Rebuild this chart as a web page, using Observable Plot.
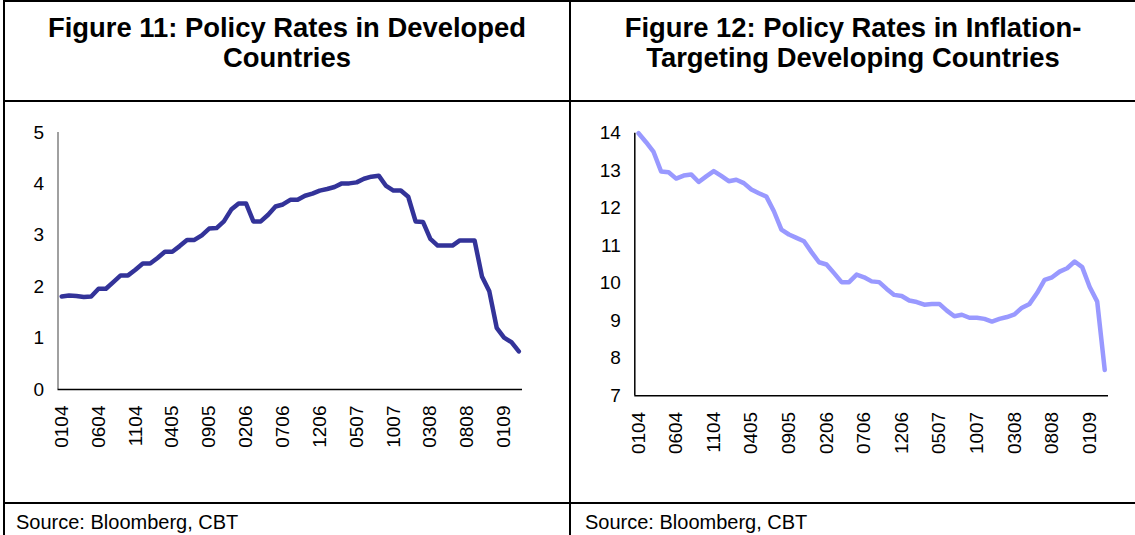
<!DOCTYPE html>
<html>
<head>
<meta charset="utf-8">
<script src="https://cdn.jsdelivr.net/npm/d3@7"></script>
<script src="https://cdn.jsdelivr.net/npm/@observablehq/plot@0.6"></script>
<style>
  html, body { margin: 0; padding: 0; background: #fff; }
  body { font-family: "Liberation Sans", Arial, sans-serif; color: #000; }
  #page { position: relative; width: 1135px; height: 535px; overflow: hidden; background: #fff; }
  .hl { position: absolute; background: #000; }
  .title { position: absolute; top: 13px; font-weight: bold; font-size: 27.4px; line-height: 30px; text-align: center; }
  .source { position: absolute; top: 510px; font-size: 20px; line-height: 24px; }
  .chart { position: absolute; top: 101px; }
  .chart svg { overflow: visible; }
</style>
</head>
<body>
<div id="page">
  <div class="hl" style="left:3px;top:0;width:1132px;height:2px"></div>
  <div class="hl" style="left:3px;top:0;width:2px;height:535px"></div>
  <div class="hl" style="left:569px;top:0;width:2px;height:535px"></div>
  <div class="hl" style="left:3px;top:100px;width:1132px;height:2px"></div>
  <div class="hl" style="left:3px;top:502px;width:1132px;height:2px"></div>

  <div class="title" style="left:5px;width:564px">Figure 11: Policy Rates in Developed<br>Countries</div>
  <div class="title" style="left:571px;width:564px">Figure 12: Policy Rates in Inflation-<br>Targeting Developing Countries</div>

  <div class="chart" id="c1" style="left:0px"></div>
  <div class="chart" id="c2" style="left:570px"></div>

  <div class="source" style="left:16px">Source: Bloomberg, CBT</div>
  <div class="source" style="left:585px">Source: Bloomberg, CBT</div>
</div>
<script>
const months = [
  "0104","0204","0304","0404","0504","0604","0704","0804","0904","1004","1104","1204",
  "0105","0205","0305","0405","0505","0605","0705","0805","0905","1005","1105","1205",
  "0106","0206","0306","0406","0506","0606","0706","0806","0906","1006","1106","1206",
  "0107","0207","0307","0407","0507","0607","0707","0807","0907","1007","1107","1207",
  "0108","0208","0308","0408","0508","0608","0708","0808","0908","1008","1108","1208",
  "0109","0209","0309"
];
const tickLabels = ["0104","0604","1104","0405","0905","0206","0706","1206","0507","1007","0308","0808","0109"];

const developed = [
  1.81, 1.83, 1.82, 1.80, 1.81, 1.96, 1.96, 2.09, 2.22, 2.22, 2.33, 2.45,
  2.45, 2.56, 2.68, 2.68, 2.79, 2.91, 2.91, 3.00, 3.13, 3.14, 3.27, 3.50,
  3.62, 3.62, 3.27, 3.27, 3.40, 3.56, 3.60, 3.69, 3.69, 3.77, 3.81, 3.87,
  3.90, 3.94, 4.01, 4.01, 4.03, 4.10, 4.14, 4.16, 3.96, 3.87, 3.87, 3.75,
  3.27, 3.26, 2.93, 2.80, 2.80, 2.80, 2.90, 2.90, 2.90, 2.20, 1.91, 1.20,
  1.01, 0.92, 0.74
];
const developing = [
  14.00, 13.76, 13.50, 12.98, 12.96, 12.79, 12.87, 12.90, 12.70, 12.85, 12.99, 12.86,
  12.72, 12.76, 12.67, 12.50, 12.40, 12.31, 11.92, 11.43, 11.30, 11.21, 11.12, 10.83,
  10.56, 10.50, 10.27, 10.03, 10.03, 10.23, 10.16, 10.05, 10.03, 9.85, 9.69, 9.66,
  9.54, 9.50, 9.43, 9.45, 9.45, 9.27, 9.12, 9.16, 9.08, 9.08, 9.05, 8.98,
  9.05, 9.10, 9.17, 9.35, 9.45, 9.74, 10.09, 10.16, 10.31, 10.40, 10.58, 10.43,
  9.90, 9.51, 7.69
];
const yTicksLeft = [0, 1, 2, 3, 4, 5];
const yTicksRight = [7, 8, 9, 10, 11, 12, 13, 14];

const tickIdx = tickLabels.map(l => months.indexOf(l));
const font = {fontFamily: "'Liberation Sans', Arial, sans-serif", fontSize: "19px", color: "#000", background: "transparent", overflow: "visible"};

function chart(values, opts) {
  const data = values.map((v, i) => ({i, m: months[i], v}));
  return Plot.plot({
    width: opts.width, height: 400,
    marginLeft: opts.ml, marginRight: opts.mr, marginTop: opts.mt, marginBottom: opts.mb,
    style: font,
    x: {domain: [-0.5, months.length - 0.5]},
    y: {domain: opts.yDomain},
    marks: [
      Plot.ruleX([-0.5], {stroke: opts.yAxisColor, strokeWidth: 1.5}),
      Plot.ruleY([opts.yDomain[0]], {stroke: "#000", strokeWidth: 1.5}),
      Plot.axisY({ticks: opts.yTicks, tickSize: 0, tickPadding: 14, label: null, fontSize: 19, tickFormat: d => String(d)}),
      Plot.axisX({ticks: tickIdx, tickFormat: i => months[i], tickRotate: -90, tickSize: 0, tickPadding: 16, label: null, fontSize: 19}),
      Plot.line(data, {x: "i", y: "v", stroke: opts.color, strokeWidth: 4.5, strokeLinejoin: "round", strokeLinecap: "round"})
    ]
  });
}

document.getElementById("c1").append(chart(developed, {
  width: 570, ml: 57.5, mr: 48, mt: 31, mb: 112,
  yDomain: [0, 5], yTicks: yTicksLeft, color: "#333399", yAxisColor: "#808080"
}));
document.getElementById("c2").append(chart(developing, {
  width: 565, ml: 64.3, mr: 27, mt: 31.7, mb: 105.7,
  yDomain: [7, 14], yTicks: yTicksRight, color: "#9999FF", yAxisColor: "#000"
}));
</script>
</body>
</html>
